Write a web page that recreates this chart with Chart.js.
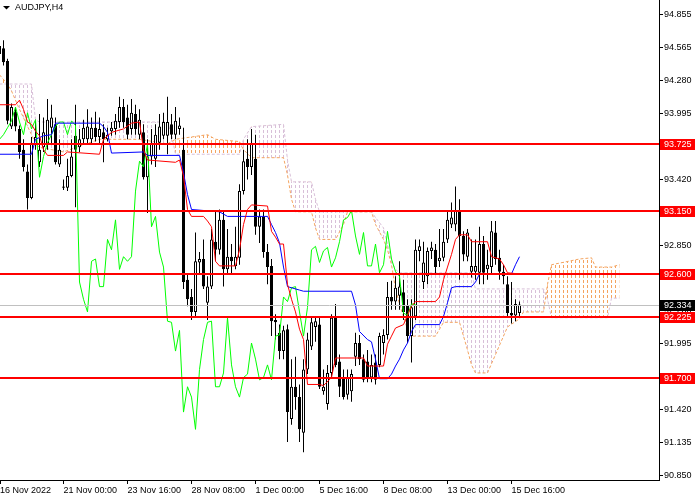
<!DOCTYPE html>
<html>
<head>
<meta charset="utf-8">
<title>AUDJPY,H4</title>
<script src="https://cdn.jsdelivr.net/npm/chart.js@4.4.0/dist/chart.umd.min.js"></script>
<style>
  html, body { margin: 0; padding: 0; background: #fff; }
  canvas { display: block; }
</style>
</head>
<body>
<canvas id="chart" width="700" height="500"></canvas>
<script>
// AUDJPY H4 candles, bar 0 = 16 Nov 2022 08:00, one bar every 4 hours (weekends skipped)
const openPrices = [
  94.58, 94.56, 94.45, 93.88, 94.01, 93.86, 93.68, 93.49, 93.26, 93.73,
  93.57, 93.70, 93.73, 93.87, 93.90, 93.55, 93.35, 93.35, 93.45, 93.80,
  93.70, 93.77, 93.77, 93.77, 93.87, 93.79, 93.83, 93.77, 93.84, 93.86,
  93.92, 94.05, 93.96, 93.86, 93.99, 93.81, 93.83, 93.44, 93.62, 93.60,
  93.74, 93.80, 93.80, 93.90, 93.81, 93.86, 93.68, 92.55, 92.40, 92.27,
  92.70, 92.73, 92.35, 92.49, 92.88, 92.81, 93.07, 92.64, 92.75, 92.67,
  92.74, 93.32, 93.60, 93.53, 93.60, 93.01, 93.10, 92.79, 92.67, 92.20,
  92.09, 91.93, 92.12, 91.34, 91.62, 91.53, 91.22, 91.77, 91.97, 92.14,
  92.16, 91.58, 91.47, 91.74, 92.23, 91.84, 91.70, 91.55, 91.58, 91.88,
  92.00, 91.86, 91.84, 91.70, 91.83, 91.81, 92.00, 92.07, 92.40, 92.36,
  92.41, 92.44, 92.33, 92.06, 92.23, 92.80, 92.53, 92.58, 92.80, 92.81,
  92.71, 92.74, 92.90, 93.03, 93.03, 93.15, 92.93, 92.75, 92.62, 92.62,
  92.61, 92.86, 92.64, 92.66, 92.96, 92.74, 92.62, 92.51, 92.26, 92.24,
  92.26
];
const highPrices = [
  94.63, 94.63, 94.47, 94.08, 94.05, 93.89, 93.77, 93.55, 93.79, 93.94,
  93.99, 93.96, 94.12, 94.07, 93.96, 93.77, 93.42, 93.60, 93.77, 94.07,
  93.86, 93.94, 94.03, 93.96, 94.01, 93.96, 93.90, 93.87, 93.92, 93.99,
  94.14, 94.12, 94.07, 94.12, 94.07, 94.03, 93.90, 93.77, 93.86, 93.90,
  93.99, 94.00, 94.14, 93.99, 94.05, 93.96, 93.87, 92.60, 92.47, 92.96,
  92.79, 92.90, 92.58, 92.99, 93.14, 93.16, 93.14, 92.99, 92.86, 93.01,
  93.38, 93.68, 93.77, 93.86, 93.81, 93.16, 93.16, 92.86, 92.73, 92.25,
  92.16, 92.15, 92.16, 91.86, 91.88, 91.64, 91.86, 92.09, 92.22, 92.22,
  92.22, 91.77, 91.81, 92.25, 92.34, 91.90, 91.77, 91.77, 91.77, 92.09,
  92.07, 91.90, 91.94, 91.90, 91.90, 92.09, 92.12, 92.53, 92.54, 92.58,
  92.71, 92.55, 92.38, 92.38, 92.90, 92.90, 92.88, 92.83, 92.88, 92.86,
  92.99, 92.99, 93.14, 93.22, 93.36, 93.25, 92.97, 92.99, 92.90, 92.90,
  93.01, 92.93, 92.81, 93.06, 93.06, 92.81, 92.68, 92.58, 92.53, 92.38,
  92.36
];
const lowPrices = [
  94.46, 94.41, 93.90, 93.86, 93.84, 93.60, 93.49, 93.16, 93.25, 93.68,
  93.53, 93.66, 93.68, 93.73, 93.55, 93.53, 93.33, 93.32, 93.44, 93.18,
  93.66, 93.73, 93.73, 93.72, 93.75, 93.73, 93.57, 93.75, 93.80, 93.81,
  93.87, 93.87, 93.77, 93.81, 93.81, 93.77, 93.42, 93.13, 93.55, 93.53,
  93.68, 93.77, 93.64, 93.77, 93.77, 93.81, 92.47, 92.32, 92.20, 92.22,
  92.60, 92.47, 92.20, 92.47, 92.71, 92.77, 92.49, 92.60, 92.60, 92.64,
  92.68, 93.29, 93.42, 93.46, 92.94, 92.87, 92.74, 92.51, 92.06, 92.03,
  91.86, 91.86, 91.14, 91.29, 91.42, 91.14, 91.05, 91.73, 91.94, 92.01,
  91.60, 91.55, 91.42, 91.70, 91.79, 91.53, 91.51, 91.51, 91.49, 91.80,
  91.81, 91.66, 91.66, 91.66, 91.64, 91.79, 91.90, 92.03, 92.29, 92.29,
  92.29, 92.20, 92.00, 91.83, 92.20, 92.71, 92.47, 92.51, 92.73, 92.60,
  92.66, 92.71, 92.87, 93.00, 92.97, 92.55, 92.71, 92.71, 92.57, 92.55,
  92.51, 92.51, 92.55, 92.60, 92.68, 92.55, 92.51, 92.22, 92.17, 92.19,
  92.22
];
const closePrices = [
  94.51, 94.44, 93.93, 94.05, 93.88, 93.66, 93.53, 93.26, 93.74, 93.79,
  93.68, 93.83, 93.94, 93.96, 93.57, 93.68, 93.36, 93.45, 93.62, 93.68,
  93.77, 93.87, 93.88, 93.87, 93.79, 93.86, 93.77, 93.81, 93.87, 93.93,
  94.05, 93.92, 93.81, 94.00, 93.86, 93.94, 93.44, 93.62, 93.74, 93.81,
  93.88, 93.92, 93.92, 93.81, 93.93, 93.89, 92.53, 92.38, 92.27, 92.71,
  92.73, 92.49, 92.49, 92.90, 92.81, 93.07, 92.64, 92.75, 92.71, 92.75,
  93.32, 93.58, 93.53, 93.73, 93.01, 93.10, 92.79, 92.66, 92.19, 92.18,
  91.93, 92.11, 91.40, 91.62, 91.53, 91.25, 91.77, 92.03, 92.18, 92.19,
  91.62, 91.62, 91.74, 92.22, 91.81, 91.62, 91.53, 91.70, 91.73, 92.00,
  91.86, 91.68, 91.70, 91.81, 91.68, 92.06, 92.07, 92.40, 92.36, 92.48,
  92.49, 92.27, 92.06, 92.31, 92.81, 92.84, 92.70, 92.80, 92.83, 92.66,
  92.74, 92.88, 93.07, 93.09, 93.15, 92.93, 92.77, 92.96, 92.67, 92.67,
  92.86, 92.61, 92.68, 92.97, 92.73, 92.62, 92.58, 92.26, 92.24, 92.34,
  92.334
];

// Ichimoku lines, read at their corners (bar index, price)
const tenkanBars = [0, 4, 5, 6, 7, 8, 9, 10, 11, 12, 16, 17, 25, 26, 28, 31, 33, 35, 36, 37,
  44, 45, 46, 47, 48, 51, 52, 53, 54, 55, 59, 60, 61, 62, 63, 67, 68, 69, 70, 71,
  72, 73, 74, 75, 76, 77, 80, 81, 83, 84, 91, 92, 96, 97, 98, 99, 101, 103, 104, 109,
  110, 111, 112, 113, 114, 115, 117, 118, 122, 123, 125, 126, 127, 130];
const tenkanVals = [94.07, 94.07, 94.11, 94.03, 93.92, 93.90, 93.84, 93.80, 93.68, 93.63, 93.63, 93.66, 93.64, 93.77, 93.83, 93.86, 93.91, 93.92, 93.68, 93.59,
  93.57, 93.59, 93.45, 93.16, 93.10, 93.10, 93.06, 93.01, 92.71, 92.67, 92.67, 92.81, 93.03, 93.16, 93.20, 93.19, 92.97, 92.92, 92.86, 92.86,
  92.51, 92.38, 92.27, 92.12, 92.03, 91.64, 91.64, 91.63, 91.70, 91.87, 91.87, 91.80, 91.80, 91.99, 92.06, 92.13, 92.16, 92.32, 92.36, 92.36,
  92.40, 92.55, 92.66, 92.77, 92.90, 92.94, 92.94, 92.88, 92.88, 92.75, 92.73, 92.68, 92.61, 92.60];

const kijunBars = [0, 8, 9, 11, 13, 14, 25, 26, 27, 28, 36, 37, 45, 46, 47, 48, 55, 57, 67, 68,
  69, 70, 71, 72, 75, 76, 88, 89, 90, 92, 93, 94, 95, 97, 98, 99, 100, 101, 102, 103,
  104, 110, 111, 112, 113, 114, 118, 119, 120, 128, 129, 130];
const kijunVals = [93.64, 93.64, 93.77, 93.80, 93.81, 93.91, 93.91, 93.88, 93.83, 93.65, 93.66, 93.63, 93.63, 93.48, 93.29, 93.16, 93.14, 93.10, 93.10, 93.03,
  92.96, 92.87, 92.66, 92.49, 92.46, 92.45, 92.45, 92.33, 92.10, 92.03, 92.01, 91.86, 91.69, 91.69, 91.73, 91.80, 91.86, 91.94, 92.00, 92.10,
  92.16, 92.16, 92.23, 92.35, 92.48, 92.49, 92.49, 92.53, 92.60, 92.60, 92.68, 92.75];

const senkouABars = [0, 2, 3, 5, 8, 9, 10, 16, 20, 25, 35, 42, 43, 44, 50, 52, 54, 60, 61, 63,
  71, 72, 73, 74, 78, 79, 80, 84, 86, 87, 93, 94, 96, 97, 98, 99, 100, 102, 103, 109,
  111, 115, 117, 118, 119, 122, 124, 126, 127, 130, 131, 136, 137, 138, 145, 148, 149, 153, 155];
const senkouAVals = [94.33, 94.25, 94.19, 94.03, 93.81, 93.73, 93.70, 93.66, 93.71, 93.77, 93.77, 93.73, 93.75, 93.77, 93.80, 93.81, 93.77, 93.75, 93.68, 93.61,
  93.61, 93.46, 93.25, 93.14, 93.14, 93.00, 92.90, 92.90, 93.03, 93.14, 93.14, 93.03, 92.90, 92.81, 92.68, 92.47, 92.34, 92.12, 92.06, 92.06,
  92.18, 92.18, 91.94, 91.81, 91.74, 91.74, 91.90, 92.06, 92.14, 92.21, 92.27, 92.27, 92.51, 92.68, 92.73, 92.74, 92.66, 92.66, 92.68];

const senkouBBars = [0, 8, 9, 10, 42, 43, 44, 60, 61, 63, 71, 72, 73, 78, 79, 80, 93, 94, 96, 97,
  98, 99, 100, 118, 119, 136, 137, 138, 152, 153, 155];
const senkouBVals = [94.25, 94.25, 93.94, 93.92, 93.92, 93.81, 93.64, 93.64, 93.77, 93.88, 93.90, 93.59, 93.40, 93.40, 93.25, 93.14, 93.14, 93.09, 93.00, 92.86,
  92.71, 92.64, 92.61, 92.61, 92.47, 92.47, 92.38, 92.22, 92.22, 92.39, 92.39];

const chikouShift = 26; // chikou = close plotted 26 bars back

// horizontal levels and scale ticks
const levels = [93.725, 93.150, 92.600, 92.225, 91.700];
const bidPrice = 92.334;
const priceTicks = [94.855, 94.565, 94.280, 93.995, 93.710, 93.420, 93.135, 92.850,
  92.565, 92.280, 91.995, 91.710, 91.420, 91.135, 90.850];
const timeTickBars = [0, 16, 32, 48, 64, 80, 96, 112, 128];
const timeTickLabels = ['16 Nov 2022', '21 Nov 00:00', '23 Nov 16:00', '28 Nov 08:00', '1 Dec 00:00',
  '5 Dec 16:00', '8 Dec 08:00', '13 Dec 00:00', '15 Dec 16:00'];

Chart.defaults.font.family = '"Liberation Sans", Arial, sans-serif';
Chart.defaults.font.size = 9;
Chart.defaults.color = '#000';

const canvas = document.getElementById('chart');
const ctx = canvas.getContext('2d');

// dotted vertical hatch used by MT4 for the kumo
function hatch(color) {
  const c = document.createElement('canvas');
  c.width = 4;
  c.height = 5;
  const g = c.getContext('2d');
  g.fillStyle = color;
  g.fillRect(3, 0, 1, 3);
  return ctx.createPattern(c, 'repeat');
}
const upKumo = hatch('#f4a460');
const downKumo = hatch('#d8bfd8');

function points(xs, ys) {
  return xs.map((x, k) => ({ x: x, y: ys[k] }));
}

const barIdx = openPrices.map((_, i) => i);
const wickData = barIdx.map(i => ({ x: i, y: [lowPrices[i], highPrices[i]] }));
const bodyData = barIdx.map(i => ({ x: i, y: [openPrices[i], closePrices[i]] }));
const chikouData = closePrices.slice(chikouShift).map((c, k) => ({ x: k, y: c }));

const SPAN_A = 5, SPAN_B = 6;

// hatch between span A and span B: sandy brown where A is on top, thistle where B is
const kumoPlugin = {
  id: 'kumo',
  beforeDatasetsDraw(chart) {
    const { ctx, chartArea: a } = chart;
    const ptsA = chart.getDatasetMeta(SPAN_A).data;
    const ptsB = chart.getDatasetMeta(SPAN_B).data;
    const cloud = new Path2D();
    ptsA.forEach((p, k) => k ? cloud.lineTo(p.x, p.y) : cloud.moveTo(p.x, p.y));
    for (let k = ptsB.length - 1; k >= 0; k--) cloud.lineTo(ptsB[k].x, ptsB[k].y);
    cloud.closePath();
    const sideOfB = edge => {
      const p = new Path2D();
      ptsB.forEach((q, k) => k ? p.lineTo(q.x, q.y) : p.moveTo(q.x, q.y));
      p.lineTo(ptsB[ptsB.length - 1].x, edge);
      p.lineTo(ptsB[0].x, edge);
      p.closePath();
      return p;
    };
    [[a.top, upKumo], [a.bottom, downKumo]].forEach(([edge, pat]) => {
      ctx.save();
      ctx.beginPath();
      ctx.rect(a.left, a.top, a.width, a.height);
      ctx.clip();
      ctx.clip(cloud);
      ctx.clip(sideOfB(edge));
      ctx.fillStyle = pat;
      ctx.fillRect(a.left, a.top, a.width, a.height);
      ctx.restore();
    });
  }
};

const levelPlugin = {
  id: 'levels',
  afterDatasetsDraw(chart) {
    const { ctx, chartArea: a, scales: { y } } = chart;
    ctx.save();
    ctx.beginPath();
    ctx.rect(a.left, a.top, a.width, a.height);
    ctx.clip();
    const by = Math.round(y.getPixelForValue(bidPrice)) + 0.5;
    ctx.strokeStyle = '#c0c0c0';
    ctx.lineWidth = 1;
    ctx.beginPath();
    ctx.moveTo(a.left, by);
    ctx.lineTo(a.right, by);
    ctx.stroke();
    ctx.strokeStyle = '#ff0000';
    ctx.lineWidth = 2;
    levels.forEach(v => {
      const ly = Math.round(y.getPixelForValue(v));
      ctx.beginPath();
      ctx.moveTo(a.left, ly);
      ctx.lineTo(a.right, ly);
      ctx.stroke();
    });
    ctx.restore();
  },
  afterDraw(chart) {
    const { ctx, chartArea: a, scales: { y } } = chart;
    ctx.save();
    ctx.font = '9px "Liberation Sans", Arial, sans-serif';
    ctx.textBaseline = 'middle';
    const tag = (v, bg) => {
      const ty = Math.round(y.getPixelForValue(v));
      ctx.fillStyle = bg;
      ctx.fillRect(a.right + 1, ty - 5, 35, 11);
      ctx.fillStyle = '#fff';
      ctx.fillText(v.toFixed(3), a.right + 5, ty + 0.5);
    };
    levels.forEach(v => tag(v, '#ff0000'));
    tag(bidPrice, '#000');

    ctx.fillStyle = '#000';
    ctx.beginPath();
    ctx.moveTo(3, 6);
    ctx.lineTo(10, 6);
    ctx.lineTo(6.5, 9.5);
    ctx.closePath();
    ctx.fill();
    ctx.fillText('AUDJPY,H4', 15, 7.5);
    ctx.restore();
  }
};

new Chart(ctx, {
  type: 'bar',
  data: {
    datasets: [
      { type: 'line', label: 'Tenkan-sen', data: points(tenkanBars, tenkanVals), borderColor: '#ff0000', borderWidth: 1, pointRadius: 0, tension: 0, order: 0 },
      { type: 'line', label: 'Kijun-sen', data: points(kijunBars, kijunVals), borderColor: '#0000ff', borderWidth: 1, pointRadius: 0, tension: 0, order: 0 },
      { type: 'line', label: 'Chikou Span', data: chikouData, borderColor: '#00ff00', borderWidth: 1, pointRadius: 0, tension: 0, order: 0 },
      {
        label: 'Body', data: bodyData, barThickness: 3, grouped: false, minBarLength: 1, inflateAmount: 0,
        borderWidth: 1, borderColor: '#000', borderSkipped: false,
        backgroundColor: c => closePrices[c.dataIndex] >= openPrices[c.dataIndex] ? '#fff' : '#000',
        order: 1
      },
      { label: 'Wick', data: wickData, barThickness: 1, grouped: false, minBarLength: 1, inflateAmount: 0, backgroundColor: '#000', borderWidth: 0, order: 2 },
      {
        type: 'line', label: 'Senkou Span A', data: points(senkouABars, senkouAVals), borderColor: '#f4a460', borderWidth: 1,
        borderDash: [3, 2], pointRadius: 0, tension: 0, order: 3, fill: false
      },
      {
        type: 'line', label: 'Senkou Span B', data: points(senkouBBars, senkouBVals), borderColor: '#d8bfd8', borderWidth: 1,
        borderDash: [3, 2], pointRadius: 0, tension: 0, order: 3, fill: false
      }
    ]
  },
  options: {
    responsive: false,
    animation: false,
    devicePixelRatio: 1,
    events: [],
    layout: { padding: 0 },
    plugins: { legend: { display: false }, tooltip: { enabled: false } },
    scales: {
      x: {
        type: 'linear',
        offset: false,
        min: 0.125,
        max: 164.875,
        grid: { offset: false, drawOnChartArea: false, tickLength: 4, color: '#000' },
        border: { color: '#000' },
        ticks: {
          align: 'start', maxRotation: 0, autoSkip: false, padding: 1,
          callback: (v, i) => timeTickLabels[i]
        },
        afterBuildTicks: s => { s.ticks = timeTickBars.map(b => ({ value: Math.max(b, s.min) })); },
        afterFit: s => { s.height = 20; s.paddingLeft = 0; s.paddingRight = 0; }
      },
      y: {
        type: 'linear',
        position: 'right',
        min: 90.81,
        max: 94.98,
        grid: { drawOnChartArea: false, tickLength: 4, color: '#000' },
        border: { color: '#000' },
        ticks: { padding: 1, callback: v => v.toFixed(3) },
        afterBuildTicks: s => { s.ticks = priceTicks.map(v => ({ value: v })); },
        afterFit: s => { s.width = 41; s.paddingTop = 0; s.paddingBottom = 0; }
      }
    }
  },
  plugins: [kumoPlugin, levelPlugin]
});
</script>
</body>
</html>
